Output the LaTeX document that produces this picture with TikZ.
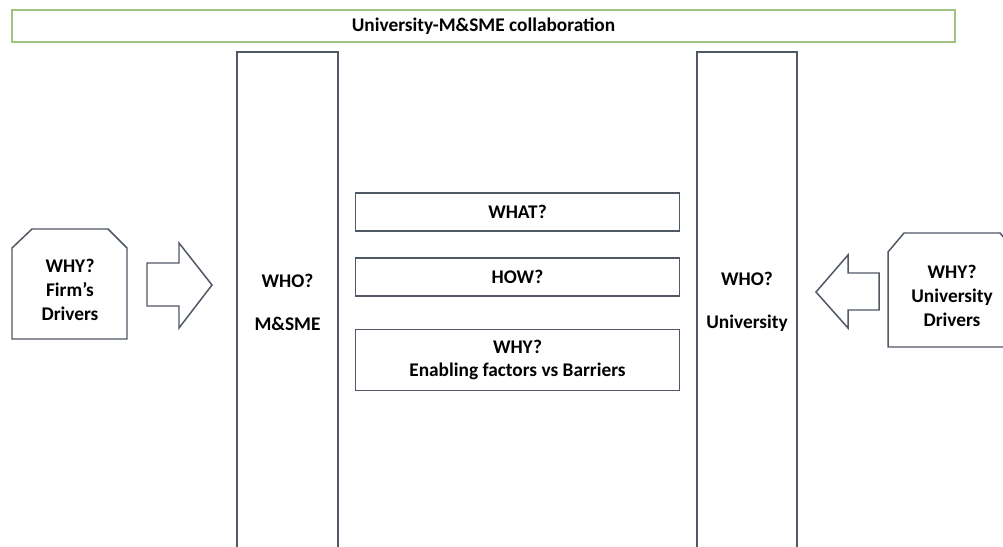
\documentclass[tikz,border=0pt]{standalone}
\usepackage{fontspec}
\setmainfont{Carlito}
\begin{document}
\begin{tikzpicture}[x=0.02cm,y=-0.02cm,
  every node/.style={font=\fontsize{11}{13}\selectfont\bfseries, text=black, align=center, inner sep=0pt},
  frame/.style={draw=lineblue, line width=0.85pt},
  titlebox/.style={draw=titlegreen, line width=1pt},
  shapeline/.style={draw=lineblue, line width=0.85pt, line join=miter}]
\definecolor{lineblue}{RGB}{80,88,100}
\definecolor{titlegreen}{RGB}{160,195,130}
\useasboundingbox (0,0) rectangle (1003,547);
\clip (0,0) rectangle (1003,547);
% title
\node[titlebox, minimum width=943*0.02cm, minimum height=32*0.02cm] (title) at (483.5,26) {University-M\&SME collaboration};
% columns
\node[frame, minimum width=101*0.02cm, minimum height=500*0.02cm] (msme) at (287.5,302) {WHO?\\[1.05em]M\&SME};
\node[frame, minimum width=100*0.02cm, minimum height=500*0.02cm] (univ) at (747,302) {WHO?\\[1.05em]University};
% middle boxes
\node[frame, minimum width=324*0.02cm, minimum height=38*0.02cm] (what) at (517.5,212) {WHAT?};
\node[frame, minimum width=324*0.02cm, minimum height=38*0.02cm] (how) at (517.5,277) {HOW?};
\node[frame, minimum width=324*0.02cm, minimum height=61*0.02cm] (why) at (517.5,360) {WHY?\\[0.05em]Enabling factors vs Barriers};
% left snipped box
\draw[shapeline] (12,339) -- (12,248) -- (32,229) -- (108,229) -- (127,248) -- (127,339) -- cycle;
\node (firm) at (70,290) {WHY?\\[0.05em]Firm’s\\[0.05em]Drivers};
% right snipped box
\draw[shapeline] (888,347) -- (888,252) -- (904,233) -- (1000,233) -- (1016,252) -- (1016,347) -- cycle;
\node (unidrv) at (952,296) {WHY?\\[0.05em]University\\[0.05em]Drivers};
% block arrows
\draw[shapeline] (147,263) -- (179,263) -- (179,243) -- (212,285) -- (179,328) -- (179,306) -- (147,306) -- cycle;
\draw[shapeline] (879,273) -- (848,273) -- (848,255) -- (816,292) -- (848,328) -- (848,310) -- (879,310) -- cycle;
\end{tikzpicture}
\end{document}
